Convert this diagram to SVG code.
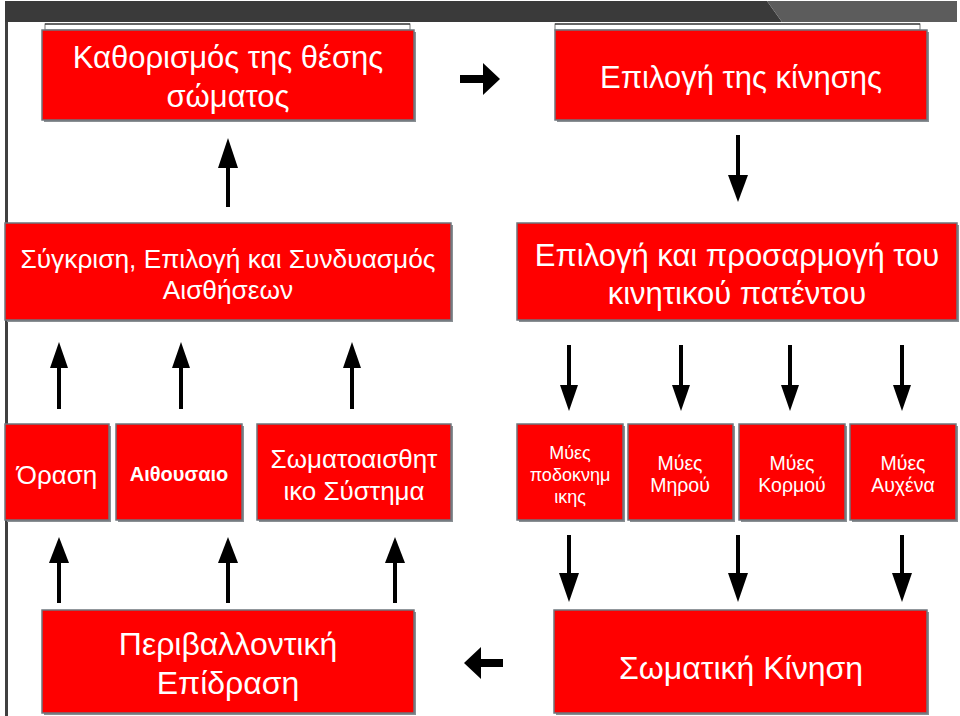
<svg xmlns="http://www.w3.org/2000/svg" width="960" height="716" viewBox="0 0 960 716">
<style>
.box{fill:#ff0000;stroke:#6e767c;stroke-width:1.5}
.sh{fill:#8a8f93}
.t{font-family:"Liberation Sans",Arial,sans-serif;fill:#ffffff;text-anchor:middle}
.sh2{fill:#ffffff;stroke:#777;stroke-width:1}
.ln{stroke:#000;stroke-width:4;fill:none}
.hd{fill:#000}
</style>
<rect x="0" y="0" width="960" height="716" fill="#ffffff"/>
<g id="frame">
<polygon points="5,1 767,1 782,22 5,22" fill="#3a3a3a"/>
<polygon points="767,1 957,1 957,22 782,22" fill="#5c5c5c"/>
<rect x="5" y="22" width="3" height="694" fill="#404040"/>
<rect x="45" y="24" width="365" height="6" class="sh2"/>
<line x1="45" y1="24" x2="410" y2="24" stroke="#111" stroke-width="1"/>
<rect x="555" y="24" width="365" height="6" class="sh2"/>
<line x1="555" y1="24" x2="920" y2="24" stroke="#111" stroke-width="1"/>
</g>
<g id="n1">
<rect x="44" y="32" width="372" height="90" class="sh"/>
<rect x="42" y="30" width="372" height="90" class="box"/>
<text class="t" font-size="31" x="228" y="68">Καθορισμός της θέσης</text>
<text class="t" font-size="31" x="228" y="107">σώματος</text>
</g>
<g id="n2">
<rect x="557" y="32" width="372" height="90" class="sh"/>
<rect x="555" y="30" width="372" height="90" class="box"/>
<text class="t" font-size="31" x="741" y="88">Επιλογή της κίνησης</text>
</g>
<g id="n3">
<rect x="7" y="225" width="446" height="97" class="sh"/>
<rect x="5" y="223" width="446" height="97" class="box"/>
<text class="t" font-size="26.3" x="228" y="268">Σύγκριση, Επιλογή και Συνδυασμός</text>
<text class="t" font-size="26.3" x="228" y="299">Αισθήσεων</text>
</g>
<g id="n4">
<rect x="519" y="225" width="440" height="97" class="sh"/>
<rect x="517" y="223" width="440" height="97" class="box"/>
<text class="t" font-size="31" x="737" y="266">Επιλογή και προσαρμογή του</text>
<text class="t" font-size="31" x="737" y="304">κινητικού πατέντου</text>
</g>
<g id="n5">
<rect x="7" y="426" width="104" height="96" class="sh"/>
<rect x="5" y="424" width="104" height="96" class="box"/>
<text class="t" font-size="26" x="57" y="484">Όραση</text>
</g>
<g id="n6">
<rect x="118" y="426" width="126" height="96" class="sh"/>
<rect x="116" y="424" width="126" height="96" class="box"/>
<text class="t" font-size="20" font-weight="bold" x="179" y="481">Αιθουσαιο</text>
</g>
<g id="n7">
<rect x="259" y="426" width="194" height="96" class="sh"/>
<rect x="257" y="424" width="194" height="96" class="box"/>
<text class="t" font-size="26" x="354" y="468">Σωματοαισθητ</text>
<text class="t" font-size="26" x="354" y="500">ικο Σύστημα</text>
</g>
<g id="n8">
<rect x="519" y="426" width="106" height="96" class="sh"/>
<rect x="517" y="424" width="106" height="96" class="box"/>
<text class="t" font-size="18" x="570" y="459">Μύες</text>
<text class="t" font-size="18" x="570" y="481">ποδοκνημ</text>
<text class="t" font-size="18" x="570" y="503">ικης</text>
</g>
<g id="n9">
<rect x="630" y="426" width="105" height="96" class="sh"/>
<rect x="628" y="424" width="105" height="96" class="box"/>
<text class="t" font-size="19.5" x="680" y="470">Μύες</text>
<text class="t" font-size="19.5" x="680" y="492">Μηρού</text>
</g>
<g id="n10">
<rect x="741" y="426" width="106" height="96" class="sh"/>
<rect x="739" y="424" width="106" height="96" class="box"/>
<text class="t" font-size="19.5" x="792" y="470">Μύες</text>
<text class="t" font-size="19.5" x="792" y="492">Κορμού</text>
</g>
<g id="n11">
<rect x="852" y="426" width="106" height="96" class="sh"/>
<rect x="850" y="424" width="106" height="96" class="box"/>
<text class="t" font-size="19.5" x="903" y="470">Μύες</text>
<text class="t" font-size="19.5" x="903" y="492">Αυχένα</text>
</g>
<g id="n12">
<rect x="44" y="612" width="372" height="103" class="sh"/>
<rect x="42" y="610" width="372" height="103" class="box"/>
<text class="t" font-size="32" x="228" y="655">Περιβαλλοντική</text>
<text class="t" font-size="32" x="228" y="694">Επίδραση</text>
</g>
<g id="n13">
<rect x="556" y="612" width="373" height="103" class="sh"/>
<rect x="554" y="610" width="373" height="103" class="box"/>
<text class="t" font-size="32" x="741" y="679">Σωματική Κίνηση</text>
</g>
<g id="connectors">
<rect x="460" y="75" width="25" height="8" class="hd"/>
<polygon points="483,63 500,79 483,95" class="hd"/>
<rect x="479" y="659" width="24" height="8" class="hd"/>
<polygon points="481,647 464,663 481,679" class="hd"/>
<line x1="228" y1="207" x2="228" y2="165" class="ln"/>
<polygon points="218,168 228,138 238,168" class="hd"/>
<line x1="738" y1="135" x2="738" y2="178" class="ln"/>
<polygon points="728,175 738,202 748,175" class="hd"/>
<line x1="59" y1="409" x2="59" y2="365" class="ln"/>
<polygon points="50,368 59,342 68,368" class="hd"/>
<line x1="181" y1="409" x2="181" y2="365" class="ln"/>
<polygon points="172,368 181,342 190,368" class="hd"/>
<line x1="352" y1="409" x2="352" y2="365" class="ln"/>
<polygon points="343,368 352,342 361,368" class="hd"/>
<line x1="569" y1="345" x2="569" y2="388" class="ln"/>
<polygon points="560,385 569,411 578,385" class="hd"/>
<line x1="681" y1="345" x2="681" y2="388" class="ln"/>
<polygon points="672,385 681,411 690,385" class="hd"/>
<line x1="790" y1="345" x2="790" y2="388" class="ln"/>
<polygon points="781,385 790,411 799,385" class="hd"/>
<line x1="902" y1="345" x2="902" y2="388" class="ln"/>
<polygon points="893,385 902,411 911,385" class="hd"/>
<line x1="59" y1="603" x2="59" y2="560" class="ln"/>
<polygon points="49,563 59,537 69,563" class="hd"/>
<line x1="228" y1="603" x2="228" y2="560" class="ln"/>
<polygon points="218,563 228,537 238,563" class="hd"/>
<line x1="395" y1="603" x2="395" y2="560" class="ln"/>
<polygon points="385,563 395,537 405,563" class="hd"/>
<line x1="569" y1="535" x2="569" y2="576" class="ln"/>
<polygon points="559,573 569,602 579,573" class="hd"/>
<line x1="738" y1="535" x2="738" y2="576" class="ln"/>
<polygon points="728,573 738,602 748,573" class="hd"/>
<line x1="902" y1="535" x2="902" y2="576" class="ln"/>
<polygon points="892,573 902,602 912,573" class="hd"/>
</g>
</svg>
